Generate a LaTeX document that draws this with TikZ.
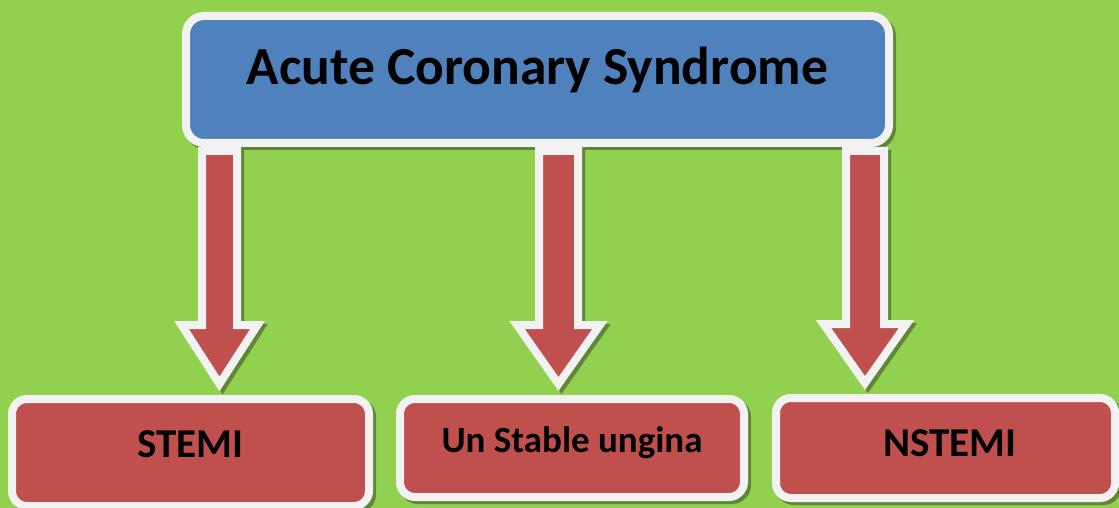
\documentclass[tikz,border=0pt]{standalone}
\usepackage{fontspec}
\setmainfont{Carlito}
\usetikzlibrary{shadows,calc}
\definecolor{bggreen}{HTML}{92D050}
\definecolor{acsblue}{HTML}{4F81BD}
\definecolor{acsred}{HTML}{C0504D}
\definecolor{rimwhite}{HTML}{F2F2F2}
\tikzset{
  softshadow/.style={drop shadow={shadow xshift=3pt, shadow yshift=-3pt, opacity=0.35, fill=black, draw=black, line width=8pt}},
  boxbase/.style={rectangle, rounded corners=18pt, draw=rimwhite, line width=8pt, inner sep=0pt, softshadow, font=\bfseries, text=black},
  topbox/.style={boxbase, fill=acsblue, font=\fontsize{53.5}{60}\selectfont\bfseries},
  subbox/.style={boxbase, rounded corners=15pt, fill=acsred},
  arrowbody/.style={draw=rimwhite, fill=acsred, line width=8pt, line join=miter, softshadow}
}
\newcommand\blockarr[4]{%
  \draw[arrowbody] let \p1=(acs.south), \p2=(#4.north) in
    (#1pt-#2pt, \y1-4pt) -- (#1pt-#2pt, \y2+70pt) -- (#1pt-#3pt, \y2+70pt)
    -- (#1pt, \y2+11pt) -- (#1pt+#3pt, \y2+70pt) -- (#1pt+#2pt, \y2+70pt)
    -- (#1pt+#2pt, \y1-4pt) -- cycle;}
\begin{document}
\begin{tikzpicture}[x=1pt,y=-1pt]
  \fill[bggreen] (0,0) rectangle (1119,508);
  \useasboundingbox (0,0) rectangle (1119,508);
  % bottom boxes
  \node[subbox, minimum width=357pt, minimum height=107pt,
        font=\fontsize{41}{48}\selectfont\bfseries, text height=33pt, text depth=24pt]
        (stemi) at (190.5,452.5) {STEMI};
  \node[subbox, minimum width=344pt, minimum height=98pt,
        font=\fontsize{37}{44}\selectfont\bfseries, text height=30pt, text depth=22pt]
        (usa) at (572,448) {Un Stable ungina};
  \node[subbox, minimum width=339pt, minimum height=100pt,
        font=\fontsize{41}{48}\selectfont\bfseries, text height=36pt, text depth=20pt]
        (nstemi) at (945.5,448) {\hspace*{9pt}NSTEMI};
  % top box
  \node[topbox, minimum width=703pt, minimum height=127pt, text height=40pt, text depth=29pt]
        (acs) at (537.5,79.5) {Acute Coronary Syndrome};
  % block arrows from the top box to each sub-type
  \blockarr{219.5}{17.5}{38}{stemi}
  \blockarr{558.5}{19.5}{41.5}{usa}
  \blockarr{865}{19}{41.5}{nstemi}
\end{tikzpicture}
\end{document}
